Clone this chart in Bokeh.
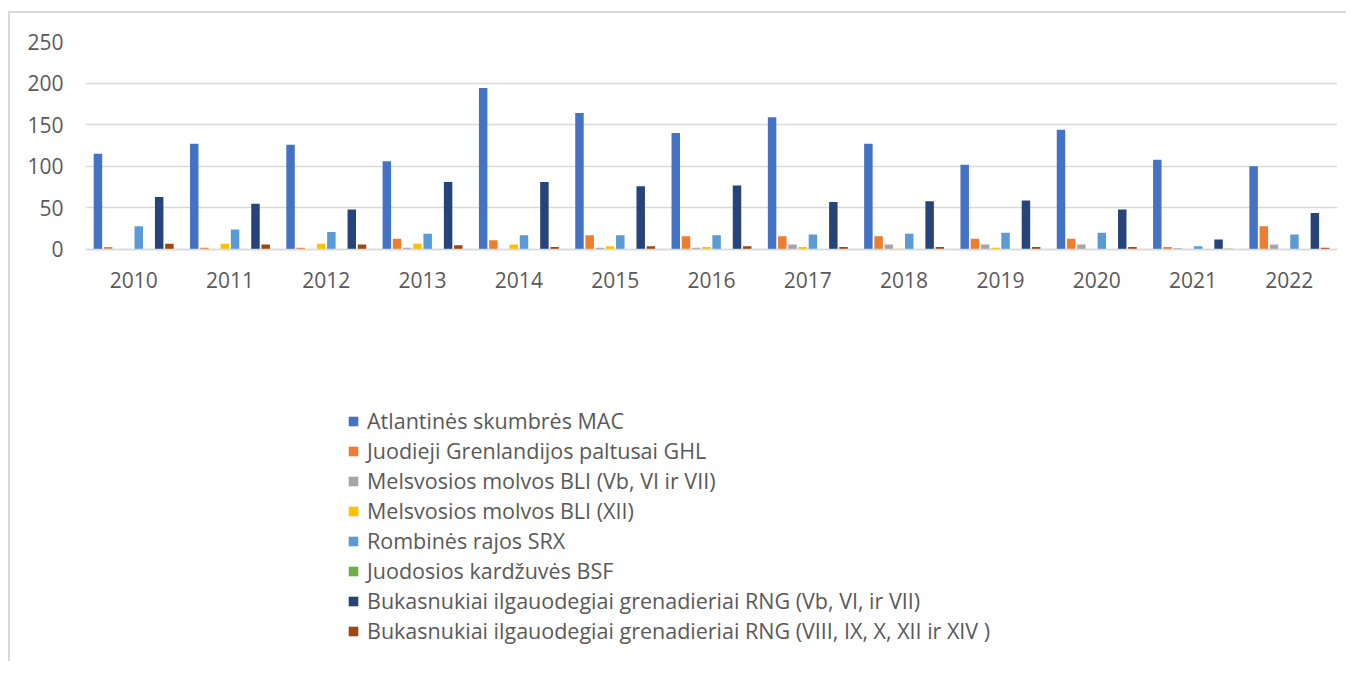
from bokeh.plotting import figure
from bokeh.models import ColumnDataSource, FactorRange, Legend, LegendItem, Range1d
from bokeh.transform import dodge
from bokeh.embed import file_html
from bokeh.resources import INLINE

years = ["2010", "2011", "2012", "2013", "2014", "2015", "2016",
         "2017", "2018", "2019", "2020", "2021", "2022"]

mac = [115, 127, 126, 106, 194, 164, 140, 159, 127, 102, 144, 108, 100]
ghl = [3, 2, 2, 13, 11, 17, 16, 16, 16, 13, 13, 3, 28]
bli_vb = [0.5, 0, 0, 2, 0, 2, 2, 6, 6, 6, 6, 1.5, 6]
bli_xii = [0, 7, 7, 7, 6, 4, 3, 3, 1, 2, 0.5, 0, 0.5]
srx = [28, 24, 21, 19, 17, 17, 17, 18, 19, 20, 20, 4, 18]
bsf = [0, 0, 0, 0, 0, 0, 0, 0, 0, 0, 0, 0, 0]
rng_vb = [63, 55, 48, 81, 81, 76, 77, 57, 58, 59, 48, 12, 44]
rng_viii = [7, 6, 6, 5, 3, 4, 4, 3, 3, 3, 3, 1, 2]

series_names = [
    "Atlantinės skumbrės MAC",
    "Juodieji Grenlandijos paltusai GHL",
    "Melsvosios molvos BLI (Vb, VI ir VII)",
    "Melsvosios molvos BLI (XII)",
    "Rombinės rajos SRX",
    "Juodosios kardžuvės BSF",
    "Bukasnukiai ilgauodegiai grenadieriai RNG (Vb, VI, ir VII)",
    "Bukasnukiai ilgauodegiai grenadieriai RNG (VIII, IX, X, XII ir XIV )",
]
series_values = [mac, ghl, bli_vb, bli_xii, srx, bsf, rng_vb, rng_viii]
colors = ["#4472C4", "#ED7D31", "#A5A5A5", "#FFC000",
          "#5B9BD5", "#70AD47", "#264478", "#9E480E"]
y_ticks = [0, 50, 100, 150, 200, 250]

FONT = "Open Sans"
TXT = "#595959"
GRID = "#D9D9D9"

data = {"years": years}
for i, vals in enumerate(series_values):
    data["s%d" % i] = vals
source = ColumnDataSource(data)

# frame: 612 px tall; 208 px for the 0..250 value band, the rest holds
# the category labels and the legend beneath the bars
p = figure(
    x_range=FactorRange(*years, range_padding=0),
    y_range=Range1d(-485.6, 250),
    width=1338, height=650,
    output_backend="svg", toolbar_location=None,
    min_border_left=75, min_border_right=11,
    min_border_top=28, min_border_bottom=10,
)
p.styles = {"border-left": "2px solid #D9D9D9",
            "border-top": "2px solid #D9D9D9",
            "margin-top": "11px", "margin-left": "8px"}
p.outline_line_color = None
p.background_fill_color = "white"
p.border_fill_color = "white"

step = 0.106
renderers = []
for i, name in enumerate(series_names):
    r = p.vbar(x=dodge("years", (i - 3.5) * step, range=p.x_range),
               top="s%d" % i, width=0.088, source=source,
               fill_color=colors[i], line_color=None)
    renderers.append(r)

p.xgrid.grid_line_color = None
p.ygrid.grid_line_color = GRID
p.ygrid.grid_line_width = 1.5
p.yaxis.ticker = y_ticks

p.yaxis.axis_line_color = None
p.yaxis.major_tick_line_color = None
p.yaxis.minor_tick_line_color = None
p.yaxis.major_tick_out = 0
p.yaxis.major_label_standoff = 22
p.yaxis.major_label_text_font = FONT
p.yaxis.major_label_text_font_size = "21px"
p.yaxis.major_label_text_color = TXT

p.xaxis.fixed_location = 0
p.xaxis.axis_line_color = GRID
p.xaxis.axis_line_width = 1.5
p.xaxis.major_tick_line_color = None
p.xaxis.major_tick_out = 0
p.xaxis.major_label_standoff = 23
p.xaxis.major_label_text_font = FONT
p.xaxis.major_label_text_font_size = "21px"
p.xaxis.major_label_text_color = TXT

items = [LegendItem(label=n, renderers=[r]) for n, r in zip(series_names, renderers)]
legend = Legend(items=items, location=(262, 8), orientation="vertical")
legend.padding = 0
legend.margin = 0
legend.border_line_color = None
legend.background_fill_alpha = 0
legend.glyph_width = 12
legend.glyph_height = 12
legend.label_standoff = 8
legend.label_height = 29
legend.spacing = 1
legend.label_text_font = FONT
legend.label_text_font_size = "21.5px"
legend.label_text_color = TXT
p.add_layout(legend, "center")

open("out.html", "w").write(file_html(p, INLINE))
